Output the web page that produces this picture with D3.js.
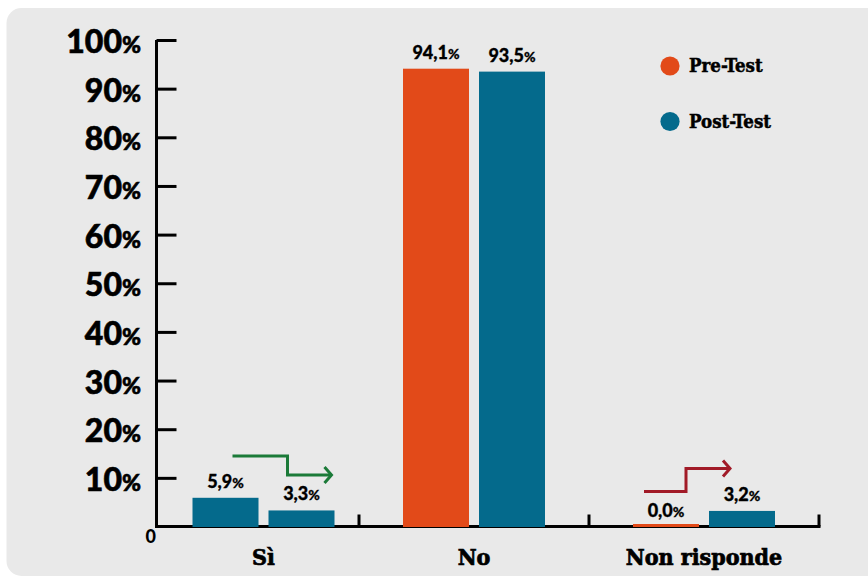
<!DOCTYPE html>
<html>
<head>
<meta charset="utf-8">
<script src="https://cdn.jsdelivr.net/npm/d3@7"></script>
<style>
  html, body { margin: 0; padding: 0; background: #ffffff; }
  svg { display: block; }
</style>
</head>
<body>
<svg id="chart" width="868" height="579"></svg>
<script>
// Survey answers, before and after the test
const categories = ["Sì", "No", "Non risponde"];
const series = ["Pre-Test", "Post-Test"];
const preTest = [5.9, 94.1, 0.0];
const postTest = [3.3, 93.5, 3.2];
const yTicks = [10, 20, 30, 40, 50, 60, 70, 80, 90, 100];

const seriesColor = { "Pre-Test": "#e24a19", "Post-Test": "#046a8c" };
// the "Sì" pre-test column is shown in the post-test colour
const barColorOverride = { "Sì|Pre-Test": "#046a8c" };

const W = 868, H = 579;
const axisX = 156.5, baseY = 526.5, topY = 40, axisRight = 819;
const bandStep = 230, groupWidth = 142;

const svg = d3.select("#chart");

// panel
svg.append("rect")
  .attr("x", 6.5).attr("y", 8).attr("width", W + 20).attr("height", 568)
  .attr("rx", 15).attr("fill", "#e9e9e9");

const y = d3.scaleLinear().domain([0, 100]).range([baseY, topY]);
const x = d3.scaleBand().domain(categories)
  .range([axisRight - bandStep * categories.length, axisRight]);
// first band is cut short by the y axis
const groupCenter = c => Math.max(x(c), axisX - 8) + (bandStep - groupWidth) / 2 + groupWidth / 2;
const xs = d3.scaleBand().domain(series).range([-groupWidth / 2, groupWidth / 2]).paddingInner(10 / 76);

const it = d3.formatLocale({ decimal: ",", thousands: ".", grouping: [3], currency: ["€", ""] });
const fmt = it.format(".1f");

const sans = "Lato, 'Noto Sans', sans-serif";
const slab = "'DejaVu Serif Condensed', 'DejaVu Serif', serif";

// y axis with ticks pointing into the plot
const yAxis = d3.axisRight(y).tickValues(yTicks).tickSize(20).tickFormat("");
const gy = svg.append("g").attr("transform", `translate(${axisX},0)`).call(yAxis);
gy.select(".domain").attr("d", `M0,${topY}V${baseY}`);
gy.selectAll("path, line").attr("stroke", "#000").attr("stroke-width", 3);

const yLab = svg.append("g").selectAll("text").data(yTicks).join("text")
  .attr("x", 141).attr("y", d => y(d) + 13)
  .attr("text-anchor", "end")
  .attr("font-family", sans).attr("font-weight", 900).attr("fill", "#000")
  .attr("stroke", "#000").attr("stroke-width", 0.6);
yLab.append("tspan").attr("font-size", 32).text(d => d);
yLab.append("tspan").attr("font-size", 23).text("%");

svg.append("text").attr("x", 156).attr("y", 543).attr("text-anchor", "end")
  .attr("font-family", sans).attr("font-weight", 900).attr("font-size", 18).text("0");

// x axis: baseline with upward ticks between the groups
const xBounds = categories.slice(1).map(c => x(c)).concat([axisRight]);
const gx = svg.append("g");
gx.append("line").attr("x1", axisX - 1.5).attr("x2", axisRight + 1.5)
  .attr("y1", baseY).attr("y2", baseY).attr("stroke", "#000").attr("stroke-width", 3);
gx.selectAll("line.tick").data(xBounds).join("line").attr("class", "tick")
  .attr("x1", d => d).attr("x2", d => d).attr("y1", baseY).attr("y2", baseY - 12)
  .attr("stroke", "#000").attr("stroke-width", 3);

svg.append("g").selectAll("text").data(categories).join("text")
  .attr("x", c => groupCenter(c)).attr("y", 565)
  .attr("text-anchor", "middle")
  .attr("font-family", slab).attr("font-weight", 700).attr("font-size", 23)
  .attr("fill", "#000").attr("stroke", "#000").attr("stroke-width", 0.7)
  .text(c => c);

// bars
const rows = [];
categories.forEach((c, i) => {
  rows.push({ c, s: "Pre-Test", v: preTest[i] });
  rows.push({ c, s: "Post-Test", v: postTest[i] });
});

svg.append("g").selectAll("rect").data(rows).join("rect")
  .attr("x", d => groupCenter(d.c) + xs(d.s))
  .attr("width", xs.bandwidth())
  .attr("y", d => Math.min(y(d.v), baseY - 2.5))
  .attr("height", d => Math.max(y(0) - y(d.v), 2.5) + 0.5)
  .attr("fill", d => barColorOverride[d.c + "|" + d.s] || seriesColor[d.s]);

const vLab = svg.append("g").selectAll("text").data(rows).join("text")
  .attr("x", d => groupCenter(d.c) + xs(d.s) + xs.bandwidth() / 2)
  .attr("y", d => y(d.v) - 10)
  .attr("text-anchor", "middle")
  .attr("font-family", sans).attr("font-weight", 900).attr("fill", "#000")
  .attr("stroke", "#000").attr("stroke-width", 0.3);
vLab.append("tspan").attr("font-size", 18).text(d => fmt(d.v));
vLab.append("tspan").attr("font-size", 14).text("%");

// step arrows showing the direction of change
const arrows = [
  { c: "Sì", from: 14.5, to: 10.6, x0: -31, xm: 24, x1: 68, color: "#1b7a38" },
  { c: "Non risponde", from: 7.2, to: 11.9, x0: -60, xm: -18, x1: 26, color: "#a11a27" }
];
const ag = svg.append("g").attr("fill", "none").attr("stroke-width", 3)
  .attr("stroke-linejoin", "miter");
arrows.forEach(a => {
  const cx = groupCenter(a.c);
  const p = d3.path();
  p.moveTo(cx + a.x0, y(a.from));
  p.lineTo(cx + a.xm, y(a.from));
  p.lineTo(cx + a.xm, y(a.to));
  p.lineTo(cx + a.x1, y(a.to));
  ag.append("path").attr("d", p.toString()).attr("stroke", a.color);
  const h = d3.path();
  h.moveTo(cx + a.x1 - 7, y(a.to) - 8);
  h.lineTo(cx + a.x1, y(a.to));
  h.lineTo(cx + a.x1 - 7, y(a.to) + 8);
  ag.append("path").attr("d", h.toString()).attr("stroke", a.color);
});

// legend
const lg = svg.append("g").selectAll("g").data(series).join("g")
  .attr("transform", (d, i) => `translate(670,${66 + i * 55.5})`);
lg.append("circle").attr("r", 9.6).attr("fill", d => seriesColor[d]);
lg.append("text").attr("x", 19).attr("y", 6)
  .attr("font-family", slab).attr("font-weight", 700).attr("font-size", 18.5)
  .attr("fill", "#000").attr("stroke", "#000").attr("stroke-width", 0.5)
  .text(d => d);
</script>
</body>
</html>
